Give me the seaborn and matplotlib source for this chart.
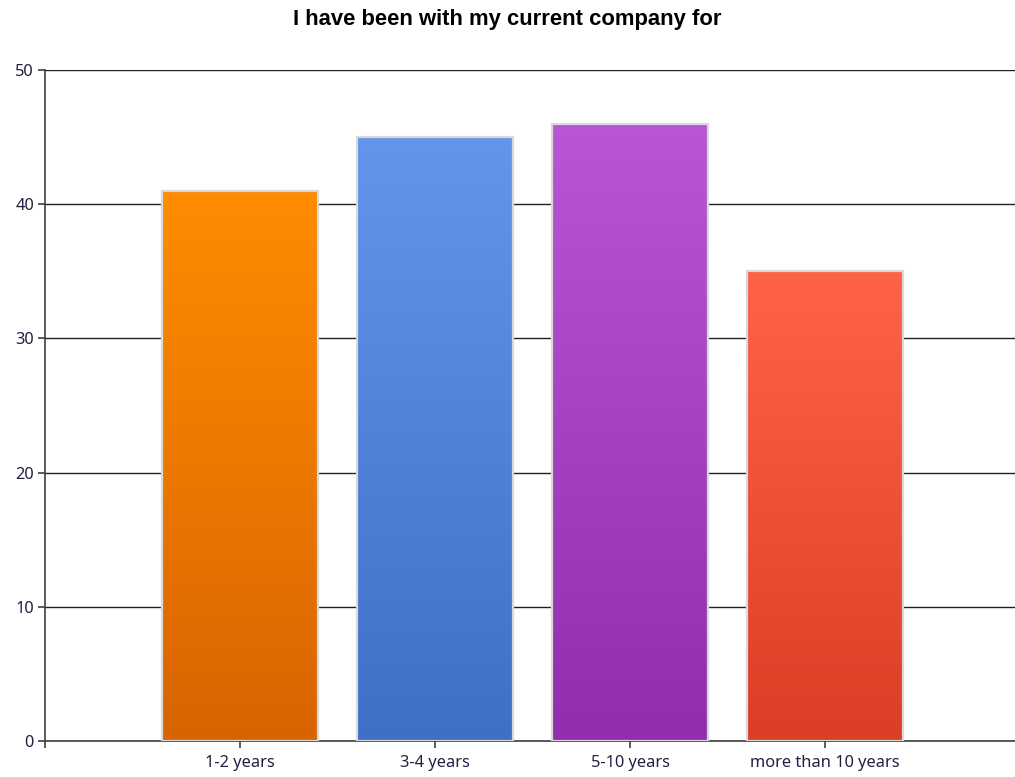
import numpy as np
import pandas as pd
import seaborn as sns
import matplotlib.pyplot as plt
import matplotlib as mpl

# data
categories = ['1-2 years', '3-4 years', '5-10 years', 'more than 10 years']
counts = [41, 45, 46, 35]
top_colours = ['#FF8C00', '#6495ED', '#BA55D3', '#FF6347']
bottom_colours = ['#D86400', '#3F6FC6', '#922EAD', '#DA3E24']
y_ticks = [0, 10, 20, 30, 40, 50]

df = pd.DataFrame({'Tenure': categories, 'Count': counts})

sns.set_style('white')
plt.rcParams['font.family'] = ['Noto Sans', 'DejaVu Sans']

fig = plt.figure(figsize=(10.15, 7.77), dpi=100)
ax = fig.add_axes([45 / 1015, 1 - 741 / 777, 1 - 45 / 1015, (741 - 70) / 777])

sns.barplot(data=df, x='Tenure', y='Count', hue='Tenure', palette=top_colours,
            legend=False, width=0.8, edgecolor='#D9D9D9', linewidth=1.6,
            saturation=1, ax=ax, zorder=3)

# gradient fill, clipped to each bar
for patch, c_top, c_bot in zip(ax.patches, top_colours, bottom_colours):
    x0, y0 = patch.get_x(), patch.get_y()
    w, h = patch.get_width(), patch.get_height()
    cmap = mpl.colors.LinearSegmentedColormap.from_list('g', [c_top, c_bot])
    grad = np.linspace(0, 1, 256).reshape(-1, 1)
    im = ax.imshow(grad, cmap=cmap, extent=(x0, x0 + w, y0, y0 + h),
                   origin='upper', aspect='auto', zorder=2.5)
    im.set_clip_path(patch)
    patch.set_facecolor('none')

ax.set_xlim(-1, 3.974)
ax.set_ylim(0, 50)
ax.set_yticks(y_ticks)
ax.yaxis.grid(True, color='#202020', linewidth=1.0, zorder=1)
ax.set_axisbelow(True)

ax.spines[['top', 'right']].set_visible(False)
ax.spines['left'].set_color('#404040')
ax.spines['bottom'].set_color('#404040')
ax.spines['left'].set_linewidth(1.2)
ax.spines['bottom'].set_linewidth(1.2)

ax.set_xticks([-1], minor=True)
ax.tick_params(axis='both', which='major', direction='out', length=5,
               width=1.2, color='#404040', labelsize=11.8, labelcolor='#202040',
               left=True, bottom=True)
ax.tick_params(axis='x', which='minor', direction='out', length=5,
               width=1.2, color='#404040', bottom=True)
ax.tick_params(axis='y', pad=3)
ax.tick_params(axis='x', pad=5)
ax.set_xlabel('')
ax.set_ylabel('')

fig.text(0.5, 1 - 19 / 777, 'I have been with my current company for',
         ha='center', va='center', fontsize=15.8, fontweight='bold',
         family='Liberation Sans', color='black')

fig.savefig('out.png', dpi=100)
